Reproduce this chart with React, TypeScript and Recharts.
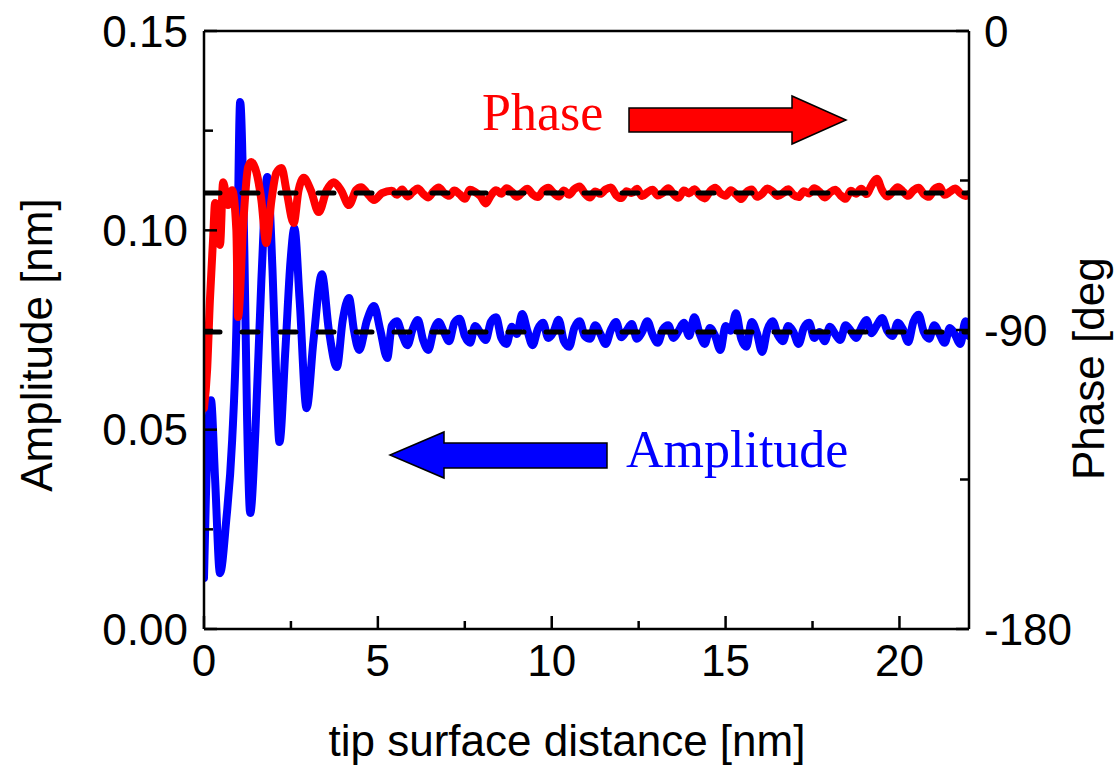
import React from 'react';
import { ComposedChart, Line, XAxis, YAxis } from 'recharts';

// ---- tick values ----
const xTicks = [0, 5, 10, 15, 20];
const xMinorTicks = [2.5, 7.5, 12.5, 17.5];
const ampTicks = [0, 0.05, 0.1, 0.15];
const ampMinorTicks = [0.025, 0.075, 0.125];
const phaseTicks = [-180, -90, 0];
const phaseMinorTicks = [-135, -45];

// ---- amplitude (nm), transient part ----
const ampTransientX = [0.0, 0.06, 0.2, 0.32, 0.46, 0.64, 0.81, 0.93, 1.04, 1.16, 1.24, 1.33, 1.48, 1.65, 1.82, 1.97, 2.08, 2.17, 2.34, 2.49, 2.6, 2.75, 2.95, 3.15, 3.39, 3.59, 3.82, 3.99, 4.17, 4.31, 4.46, 4.69, 4.89, 5.07, 5.27];
const ampTransientY = [0.0128, 0.0349, 0.0574, 0.0374, 0.014, 0.0273, 0.0474, 0.075, 0.1322, 0.095, 0.0524, 0.0291, 0.0499, 0.0875, 0.1134, 0.09, 0.0625, 0.0469, 0.07, 0.0925, 0.1006, 0.0825, 0.0554, 0.0725, 0.089, 0.075, 0.0657, 0.0775, 0.083, 0.075, 0.07, 0.0775, 0.081, 0.075, 0.068];
// ---- amplitude, steady (noisy) part sampled from 5.4 nm every 0.15 nm ----
const ampNoiseY = [
  0.0760, 0.0772, 0.0738, 0.0712, 0.0752, 0.0775, 0.0725, 0.0700, 0.0748, 0.0770,
  0.0745, 0.0722, 0.0768, 0.0778, 0.0735, 0.0718, 0.0760, 0.0742, 0.0725, 0.0770,
  0.0782, 0.0730, 0.0715, 0.0758, 0.0740, 0.0790, 0.0748, 0.0712, 0.0752, 0.0768,
  0.0730, 0.0745, 0.0776, 0.0722, 0.0708, 0.0755, 0.0772, 0.0735, 0.0728, 0.0762,
  0.0740, 0.0715, 0.0750, 0.0770, 0.0732, 0.0748, 0.0765, 0.0728, 0.0745, 0.0772,
  0.0738, 0.0718, 0.0752, 0.0762, 0.0730, 0.0748, 0.0768, 0.0735, 0.0782, 0.0742,
  0.0715, 0.0755, 0.0735, 0.0700, 0.0760, 0.0748, 0.0792, 0.0728, 0.0708, 0.0770,
  0.0742, 0.0695, 0.0750, 0.0772, 0.0738, 0.0722, 0.0760, 0.0745, 0.0715, 0.0755,
  0.0768, 0.0730, 0.0745, 0.0722, 0.0758, 0.0740, 0.0725, 0.0762, 0.0748, 0.0730,
  0.0755, 0.0775, 0.0742, 0.0762, 0.0780, 0.0748, 0.0735, 0.0768, 0.0752, 0.0720,
  0.0770, 0.0788, 0.0745, 0.0728, 0.0762, 0.0740, 0.0718, 0.0755, 0.0738, 0.0715, 0.0772,
];
const ampEndX = 22.0;
const ampEndY = 0.0735;

// ---- phase (deg), transient part ----
const phaseTransientX = [0.0, 0.09, 0.17, 0.26, 0.32, 0.46, 0.55, 0.69, 0.81, 0.93, 0.98, 1.13, 1.27, 1.36, 1.51, 1.65, 1.79, 1.94, 2.08, 2.23, 2.37, 2.58, 2.72, 2.87, 3.07, 3.3, 3.53, 3.73, 3.94, 4.17, 4.37, 4.52, 4.69, 4.89, 5.12];
const phaseTransientY = [-113.5, -102, -81, -62.9, -51.8, -64.4, -45.5, -52.4, -47.9, -59.9, -86.1, -57.8, -40.9, -39.4, -42.7, -50.9, -63.8, -50.9, -42.7, -41.2, -47.9, -57.8, -47.9, -44.2, -47.9, -54.5, -47.9, -45.5, -47.9, -52.4, -47.9, -47.0, -48.8, -50.9, -48.8];
// ---- phase, steady (noisy) part sampled from 5.4 nm every 0.15 nm ----
const phaseNoiseY = [
  -48.1, -49.3, -47.7, -49.8, -48.5, -47.4, -49.0, -50.1, -48.3, -47.1,
  -48.7, -49.6, -48.0, -49.1, -50.5, -47.8, -48.5, -49.7, -51.9, -49.5,
  -47.9, -49.0, -47.3, -48.4, -49.9, -48.6, -47.5, -49.2, -50.0, -48.1,
  -47.2, -48.7, -49.8, -48.0, -49.3, -47.6, -46.8, -48.9, -50.1, -48.3,
  -49.0, -47.7, -47.1, -49.4, -50.3, -48.2, -48.8, -47.5, -49.7, -48.6,
  -47.8, -49.5, -48.7, -47.3, -49.1, -50.2, -48.0, -48.9, -47.6, -49.4,
  -50.4, -48.3, -47.2, -48.8, -49.6, -47.9, -49.2, -50.6, -48.5, -47.7,
  -49.9, -49.0, -47.4, -48.3, -49.7, -48.8, -47.6, -49.3, -50.0, -48.2,
  -48.9, -47.3, -48.4, -50.1, -48.7, -47.8, -49.4, -50.5, -48.1, -49.0,
  -47.5, -49.1, -46.4, -44.5, -47.9, -49.8, -48.5, -47.0, -48.3, -49.6,
  -48.0, -47.2, -49.1, -49.9, -47.7, -46.9, -49.3, -48.4, -47.4, -48.8, -49.7,
];
const phaseEndX = 22.0;
const phaseEndY = -49.1;

const noiseStart = 5.4;
const noiseStep = 0.15;

// ---- reference (dashed) levels ----
const refX = [0, 22];
const ampLevel = 0.0745;
const phaseLevel = -48.8;

// ---- build data tables ----
const ampData = [
  ...ampTransientX.map((x, i) => ({ x, amp: ampTransientY[i] })),
  ...ampNoiseY.map((v, i) => ({ x: +(noiseStart + i * noiseStep).toFixed(2), amp: v })),
  { x: ampEndX, amp: ampEndY },
];
const phaseData = [
  ...phaseTransientX.map((x, i) => ({ x, phase: phaseTransientY[i] })),
  ...phaseNoiseY.map((v, i) => ({ x: +(noiseStart + i * noiseStep).toFixed(2), phase: v })),
  { x: phaseEndX, phase: phaseEndY },
];
const ampRefData = refX.map((x) => ({ x, v: ampLevel }));
const phaseRefData = refX.map((x) => ({ x, v: phaseLevel }));
const xAllTicks = [...xTicks, ...xMinorTicks].sort((a, b) => a - b);

const SANS = '"Liberation Sans", Arial, Helvetica, sans-serif';
const SERIF = '"Liberation Serif", "Times New Roman", Times, serif';
const W = 1116;
const H = 767;
const axisLineStyle = { stroke: '#000', strokeWidth: 2.5 };
const tickLineStyle = { stroke: '#000', strokeWidth: 2.5 };
const tickFont = { fontSize: 44, fill: '#000', fontFamily: SANS };
const NoLabel = () => <g />;

// bottom axis tick: inward tick mark + label for major values
const BottomTick = (props: any) => {
  const { x, y, payload } = props;
  const major = xTicks.includes(payload.value);
  return (
    <g>
      <line x1={x} x2={x} y1={y} y2={y - (major ? 13 : 8)} stroke="#000" strokeWidth={2.5} />
      {major && (
        <text
          x={x}
          y={y + 16}
          dy="0.71em"
          textAnchor="middle"
          fontFamily={SANS}
          fontSize={44}
          fill="#000"
        >
          {payload.value}
        </text>
      )}
    </g>
  );
};

export default function App() {
  return (
    <div style={{ position: 'absolute', left: 0, top: 0, width: W, height: H, background: '#fff' }}>
      <ComposedChart
        width={W}
        height={H}
        margin={{ top: 30, right: 146, bottom: 137, left: 203 }}
      >
        {/* bottom axis: labels + inward major/minor ticks */}
        <XAxis
          xAxisId="x"
          type="number"
          dataKey="x"
          domain={[0, 22]}
          ticks={xAllTicks}
          interval={0}
          allowDataOverflow
          orientation="bottom"
          height={1}
          tickSize={0}
          tickMargin={0}
          tickLine={false}
          axisLine={axisLineStyle}
          tick={BottomTick}
        />
        {/* top frame line */}
        <XAxis
          xAxisId="top"
          type="number"
          domain={[0, 22]}
          ticks={xTicks}
          orientation="top"
          height={1}
          tick={false}
          tickLine={false}
          axisLine={axisLineStyle}
        />

        {/* left amplitude axis */}
        <YAxis
          yAxisId="amp"
          type="number"
          domain={[0, 0.15]}
          ticks={ampTicks}
          interval={0}
          allowDataOverflow
          orientation="left"
          width={1}
          tickSize={0}
          tickMargin={16}
          tickLine={false}
          axisLine={axisLineStyle}
          tick={tickFont}
          tickFormatter={(v: number) => v.toFixed(2)}
        />
        <YAxis
          yAxisId="ampMaj"
          type="number"
          domain={[0, 0.15]}
          ticks={ampTicks}
          interval={0}
          allowDataOverflow
          orientation="left"
          width={1}
          mirror
          tickSize={13}
          tick={NoLabel}
          axisLine={false}
          tickLine={tickLineStyle}
        />
        <YAxis
          yAxisId="ampMin"
          type="number"
          domain={[0, 0.15]}
          ticks={ampMinorTicks}
          interval={0}
          allowDataOverflow
          orientation="left"
          width={1}
          mirror
          tickSize={8}
          tick={NoLabel}
          axisLine={false}
          tickLine={tickLineStyle}
        />

        {/* right phase axis */}
        <YAxis
          yAxisId="phase"
          type="number"
          domain={[-180, 0]}
          ticks={phaseTicks}
          interval={0}
          allowDataOverflow
          orientation="right"
          width={1}
          tickSize={0}
          tickMargin={15}
          tickLine={false}
          axisLine={axisLineStyle}
          tick={tickFont}
        />
        <YAxis
          yAxisId="phaseMaj"
          type="number"
          domain={[-180, 0]}
          ticks={phaseTicks}
          interval={0}
          allowDataOverflow
          orientation="right"
          width={1}
          mirror
          tickSize={13}
          tick={NoLabel}
          axisLine={false}
          tickLine={tickLineStyle}
        />
        <YAxis
          yAxisId="phaseMin"
          type="number"
          domain={[-180, 0]}
          ticks={phaseMinorTicks}
          interval={0}
          allowDataOverflow
          orientation="right"
          width={1}
          mirror
          tickSize={8}
          tick={NoLabel}
          axisLine={false}
          tickLine={tickLineStyle}
        />

        <Line
          xAxisId="x"
          yAxisId="amp"
          data={ampData}
          dataKey="amp"
          type="monotone"
          stroke="#0000ff"
          strokeWidth={8}
          strokeLinejoin="round"
          strokeLinecap="round"
          dot={false}
          activeDot={false}
          isAnimationActive={false}
        />
        <Line
          xAxisId="x"
          yAxisId="phase"
          data={phaseData}
          dataKey="phase"
          type="monotone"
          stroke="#ff0000"
          strokeWidth={8}
          strokeLinejoin="round"
          strokeLinecap="round"
          dot={false}
          activeDot={false}
          isAnimationActive={false}
        />
        <Line
          xAxisId="x"
          yAxisId="amp"
          data={ampRefData}
          dataKey="v"
          type="linear"
          stroke="#000"
          strokeWidth={5}
          strokeDasharray="16 22"
          strokeLinecap="round"
          dot={false}
          activeDot={false}
          isAnimationActive={false}
        />
        <Line
          xAxisId="x"
          yAxisId="phase"
          data={phaseRefData}
          dataKey="v"
          type="linear"
          stroke="#000"
          strokeWidth={5}
          strokeDasharray="16 22"
          strokeLinecap="round"
          dot={false}
          activeDot={false}
          isAnimationActive={false}
        />
      </ComposedChart>

      {/* annotations and axis titles */}
      <svg
        width={W}
        height={H}
        style={{ position: 'absolute', left: 0, top: 0, pointerEvents: 'none' }}
      >
        <text x={482} y={130} fontFamily={SERIF} fontSize={52} fill="#ff0000">Phase</text>
        <polygon
          points="629,108 792,108 792,96 846,120 792,144 792,132 629,132"
          fill="#ff0000"
          stroke="#000"
          strokeWidth={1.5}
        />
        <text x={626} y={467} fontFamily={SERIF} fontSize={52} fill="#0000ff">Amplitude</text>
        <polygon
          points="607,443 444,443 444,432 390,455 444,478 444,468 607,468"
          fill="#0000ff"
          stroke="#000"
          strokeWidth={1.5}
        />
        <text x={567} y={756} textAnchor="middle" fontFamily={SANS} fontSize={44} fill="#000">
          tip surface distance [nm]
        </text>
        <text
          x={52}
          y={345}
          textAnchor="middle"
          transform="rotate(-90 52 345)"
          fontFamily={SANS}
          fontSize={44}
          fill="#000"
        >
          Amplitude [nm]
        </text>
        <text
          x={1104}
          y={480}
          textAnchor="start"
          transform="rotate(-90 1104 480)"
          fontFamily={SANS}
          fontSize={44}
          fill="#000"
        >
          Phase [deg
        </text>
      </svg>
    </div>
  );
}
